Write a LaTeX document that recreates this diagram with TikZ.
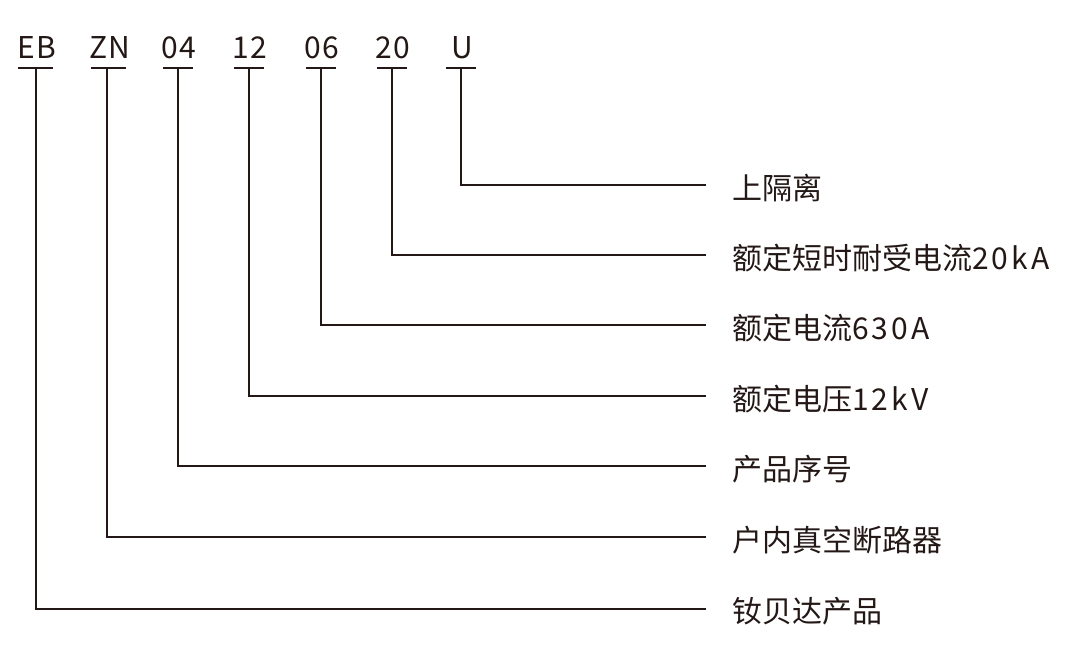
\documentclass[tikz,border=0pt]{standalone}
\usepackage{fontspec}
\setmainfont{Noto Sans CJK SC}
\newfontfamily\latin{Noto Sans CJK SC}[LetterSpace=10]
\newfontfamily\codefont{Noto Sans CJK SC}[LetterSpace=5]
\usepackage{xcolor}
\definecolor{ink}{HTML}{231815}
\tikzset{
    codetxt/.style={anchor=base, inner sep=0pt, font=\fontsize{30}{32}\selectfont\codefont},
    labtxt/.style={anchor=west, inner sep=0pt, font=\fontsize{30}{32}\selectfont},
    lead/.style={line width=2pt}
}

\begin{document}
\begin{tikzpicture}[x=1pt,y=-1pt,color=ink]
        \useasboundingbox (0,0) rectangle (1076,656);

        % code letters on top
        \node[codetxt] (eb) at (37,58) {EB};
        \node[codetxt] (zn) at (110,58) {ZN};
        \node[codetxt] (n04) at (179,58) {04};
        \node[codetxt] (n12) at (250,58) {12};
        \node[codetxt] (n06) at (322,58) {06};
        \node[codetxt] (n20) at (393,58) {20};
        \node[codetxt] (u) at (462,58) {U};

        % explanations on the right
        \node[labtxt] (lu) at (732,188) {上隔离};
        \node[labtxt] (l20) at (732,258) {额定短时耐受电流{\latin 20kA}};
        \node[labtxt] (l06) at (732,328) {额定电流{\latin 630A}};
        \node[labtxt] (l12) at (732,399) {额定电压{\latin 12kV}};
        \node[labtxt] (l04) at (732,469) {产品序号};
        \node[labtxt] (lzn) at (732,540) {户内真空断路器};
        \node[labtxt] (leb) at (732,611) {钕贝达产品};

        % ends of the leaders
        \coordinate (teb) at (36,68);   \coordinate (eeb) at (706,609);
        \coordinate (tzn) at (107,68);  \coordinate (ezn) at (706,537);
        \coordinate (t04) at (178,68);  \coordinate (e04) at (706,466);
        \coordinate (t12) at (249,68);  \coordinate (e12) at (706,396);
        \coordinate (t06) at (321,68);  \coordinate (e06) at (706,325);
        \coordinate (t20) at (392,68);  \coordinate (e20) at (706,255);
        \coordinate (tu) at (461,68);   \coordinate (eu) at (706,185);

        % underlines
        \draw[lead] ([xshift=-18pt]teb) -- ([xshift=17pt]teb);
        \draw[lead] ([xshift=-16pt]tzn) -- ([xshift=19pt]tzn);
        \draw[lead] ([xshift=-15pt]t04) -- ([xshift=15pt]t04);
        \draw[lead] ([xshift=-15pt]t12) -- ([xshift=15pt]t12);
        \draw[lead] ([xshift=-15pt]t06) -- ([xshift=15pt]t06);
        \draw[lead] ([xshift=-15pt]t20) -- ([xshift=15pt]t20);
        \draw[lead] ([xshift=-15pt]tu) -- ([xshift=15pt]tu);

        % leaders
        \draw[lead] (tu) |- (eu);
        \draw[lead] (t20) |- (e20);
        \draw[lead] (t06) |- (e06);
        \draw[lead] (t12) |- (e12);
        \draw[lead] (t04) |- (e04);
        \draw[lead] (tzn) |- (ezn);
        \draw[lead] (teb) |- (eeb);
        \end{tikzpicture}
\end{document}
